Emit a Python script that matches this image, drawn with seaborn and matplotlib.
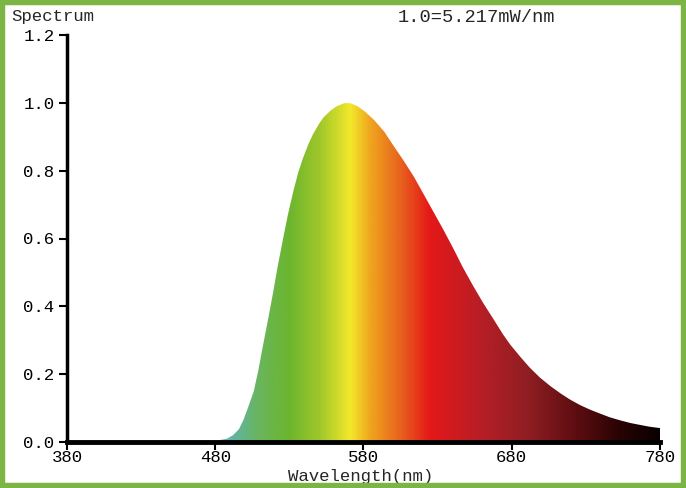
import numpy as np
import matplotlib
matplotlib.use("Agg")
import matplotlib.pyplot as plt
from matplotlib.colors import LinearSegmentedColormap
from matplotlib.patches import Rectangle
import seaborn as sns

# Spectrum data (relative, 1.0 = 5.217 mW/nm)
wavelength = [380, 460, 475, 482, 488, 492, 496, 499, 502, 506, 509, 512, 516, 519,
              522, 526, 529, 533, 536, 539, 543, 546, 550, 553, 558, 562, 567, 571,
              576, 581, 587, 594, 600, 607, 614, 620, 627, 634, 641, 647, 654, 661,
              668, 674, 679, 686, 692, 699, 706, 713, 719, 726, 733, 740, 746, 753,
              760, 767, 773, 780]
spectrum = [0.0, 0.0, 0.002, 0.005, 0.010, 0.02, 0.038, 0.065, 0.10, 0.15, 0.21, 0.28,
            0.37, 0.44, 0.515, 0.605, 0.67, 0.745, 0.795, 0.835, 0.88, 0.908, 0.938,
            0.957, 0.978, 0.99, 0.999, 0.999, 0.99, 0.974, 0.95, 0.915, 0.875, 0.83,
            0.782, 0.735, 0.68, 0.625, 0.567, 0.515, 0.46, 0.408, 0.36, 0.318, 0.287,
            0.25, 0.22, 0.19, 0.165, 0.143, 0.126, 0.109, 0.095, 0.083, 0.073, 0.064,
            0.056, 0.05, 0.045, 0.041]

x_ticks = [380, 480, 580, 680, 780]
y_ticks = [0.0, 0.2, 0.4, 0.6, 0.8, 1.0, 1.2]

# colour of the fill at each wavelength
grad_nm = [380, 480, 490, 510, 530, 551, 571, 584, 605, 625, 659, 692, 726, 753, 780]
grad_col = ["#8fd0cc", "#7cc4c0", "#62b4a8", "#6ab55a", "#6cb52e", "#a2c82a", "#f2e82a",
            "#f0a81e", "#e8621e", "#e41818", "#b81e26", "#8e1e22", "#5a0c10", "#2a0404",
            "#0a0000"]

sns.set_theme(style="white")
plt.rcParams['font.family'] = ['Liberation Mono', 'DejaVu Sans Mono']

fig = plt.figure(figsize=(6.86, 4.88), dpi=100)
ax = fig.add_axes([67 / 686, 46 / 488, 593 / 686, 407 / 488])

sns.lineplot(x=wavelength, y=spectrum, ax=ax, lw=0)

poly = ax.fill_between(wavelength, spectrum, 0, color="none", lw=0)
cmap = LinearSegmentedColormap.from_list(
    "spec", [((n - 380) / 400, c) for n, c in zip(grad_nm, grad_col)])
img = ax.imshow(np.linspace(0, 1, 800).reshape(1, -1), cmap=cmap, aspect="auto",
                extent=[380, 780, 0, 1.2], origin="lower", zorder=1)
img.set_clip_path(poly.get_paths()[0], transform=ax.transData)

ax.set_xlim(380, 780)
ax.set_ylim(0, 1.2)
ax.set_xticks(x_ticks)
ax.set_yticks(y_ticks)
ax.set_yticklabels([f"{v:.1f}" for v in y_ticks])
ax.tick_params(axis="both", direction="out", length=6, width=1.5, color="black",
               labelsize=12.5, labelcolor="black", left=True, bottom=True)
ax.tick_params(axis="x", pad=0)
ax.tick_params(axis="y", pad=3)
for side in ["top", "right"]:
    ax.spines[side].set_visible(False)
ax.spines["left"].set_linewidth(2.5)
ax.spines["bottom"].set_linewidth(3.5)
ax.spines["left"].set_color("black")
ax.spines["bottom"].set_color("black")
ax.set_xlabel("")
ax.set_ylabel("")

fig.text(11 / 686, 1 - 16 / 488, "Spectrum", fontsize=12.5, va="center", ha="left")
fig.text(398 / 686, 1 - 18 / 488, "1.0=5.217mW/nm", fontsize=13.5, va="center", ha="left")
fig.text(361 / 686, 12 / 488, "Wavelength(nm)", fontsize=12.5, va="center", ha="center")

# green frame round the picture
fig.patches.append(Rectangle((0, 0), 1, 1, transform=fig.transFigure, fill=False,
                             edgecolor="#7db544", lw=7.5, zorder=10))

fig.savefig("out.png", dpi=100)
